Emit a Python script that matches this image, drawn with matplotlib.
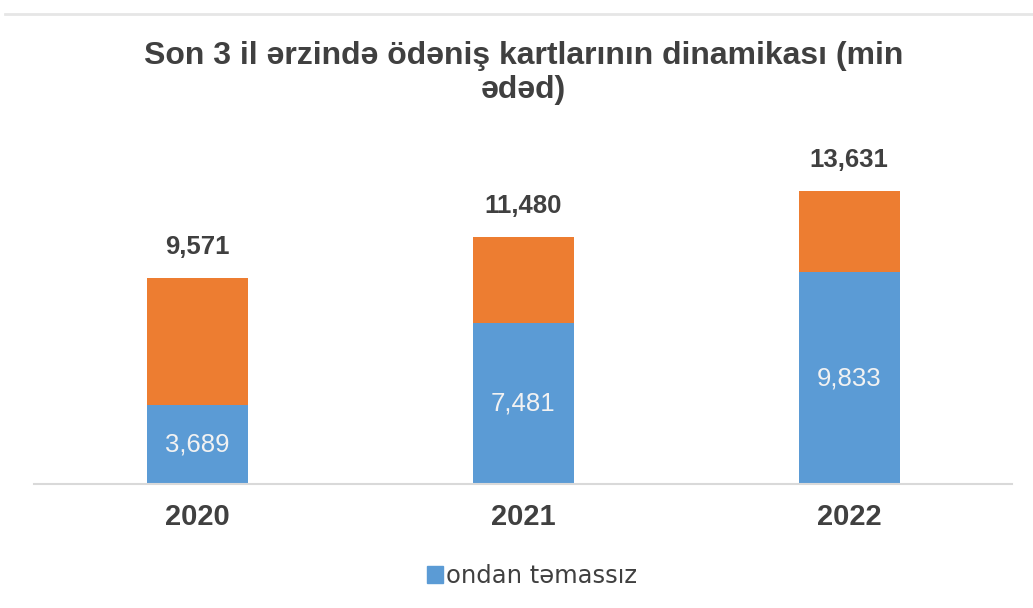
import matplotlib.pyplot as plt
from matplotlib.lines import Line2D
from matplotlib.patches import Patch

# values (million cards)
years = ['2020', '2021', '2022']
total = [9571, 11480, 13631]
contactless = [3689, 7481, 9833]
other = [t - c for t, c in zip(total, contactless)]

blue = '#5B9BD5'
orange = '#ED7D31'
dark = '#404040'

plt.rcParams['font.family'] = ['Liberation Sans', 'DejaVu Sans']

fig = plt.figure(figsize=(10.33, 6.08), dpi=100)
ax = fig.add_axes([0.033, 0.204, 0.947, 0.566])

x = range(len(years))
ax.bar(x, contactless, width=0.31, color=blue)
ax.bar(x, other, width=0.31, bottom=contactless, color=orange)

for i in x:
    ax.text(i, contactless[i] / 2, f'{contactless[i]:,}', ha='center', va='center',
            fontsize=18.5, color='#f2f2f2')
    ax.text(i, total[i] + 1100, f'{total[i]:,}', ha='center', va='baseline',
            fontsize=18.5, fontweight='bold', color=dark)

ax.set_xlim(-0.5, 2.5)
ax.set_ylim(0, 16000)
ax.set_xticks(list(x))
ax.set_xticklabels(years, fontsize=21, fontweight='bold', color=dark)
ax.tick_params(axis='x', length=0, pad=14)
ax.set_yticks([])
for s in ['top', 'left', 'right']:
    ax.spines[s].set_visible(False)
ax.spines['bottom'].set_color('#d9d9d9')
ax.spines['bottom'].set_linewidth(1.5)

fig.text(0.507, 1 - 73 / 608, 'Son 3 il ərzində ödəniş kartlarının dinamikası (min\nədəd)',
         ha='center', va='center', fontsize=23, fontweight='bold', color=dark,
         linespacing=1.2)

fig.add_artist(Line2D([0.005, 1.0], [1 - 14 / 608, 1 - 14 / 608], color='#e6e6e6', linewidth=2))

fig.legend(handles=[Patch(color=blue, label='ondan təmassız')], loc='center',
           bbox_to_anchor=(0.515, 1 - 576 / 608), frameon=False,
           handlelength=0.65, handleheight=0.65, handletextpad=0.15,
           prop={'family': 'DejaVu Sans', 'size': 17.5}, labelcolor=dark)

fig.savefig('out.png', dpi=100)
